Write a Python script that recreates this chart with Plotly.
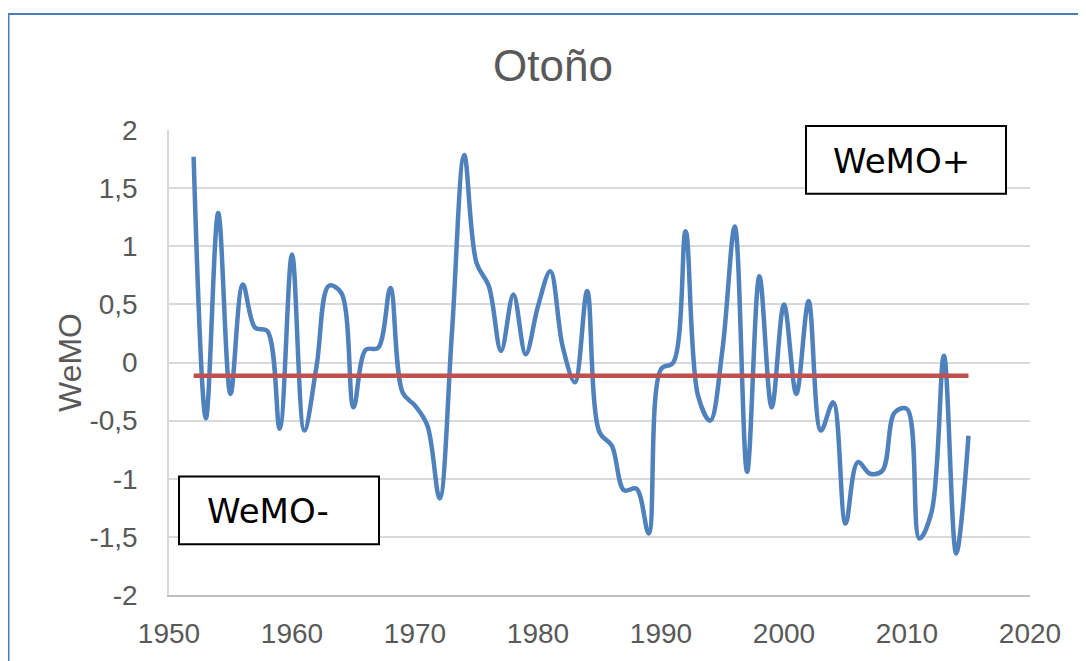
import plotly.graph_objects as go

years = list(range(1952, 2016))
wemo = [1.77, -0.48, 1.285, -0.27, 0.67, 0.30, 0.27, -0.57, 0.93, -0.585,
        -0.03, 0.66, 0.60, -0.385, 0.11, 0.125, 0.64, -0.26, -0.37, -0.54,
        -1.17, 0.25, 1.785, 0.857, 0.657, 0.10, 0.585, 0.07, 0.485, 0.785,
        0.14, -0.17, 0.615, -0.60, -0.715, -1.10, -1.085, -1.47, -0.057, 0.0,
        1.13, -0.28, -0.50, 0.114, 1.17, -0.94, 0.742, -0.386, 0.50, -0.27,
        0.528, -0.586, -0.343, -1.386, -0.857, -0.957, -0.93, -0.43, -0.40, -1.514,
        -1.285, 0.057, -1.643, -0.63]
mean_value = -0.115
mean_line = [mean_value] * len(years)

y_tickvals = [2, 1.5, 1, 0.5, 0, -0.5, -1, -1.5, -2]
y_ticktext = ["2", "1,5", "1", "0,5", "0", "-0,5", "-1", "-1,5", "-2"]
x_tickvals = [1950, 1960, 1970, 1980, 1990, 2000, 2010, 2020]
x_ticktext = [str(v) for v in x_tickvals]

# page has an 8px body margin; work in page pixels and convert
OFF = 8
W, H = 1086 - OFF, 661 - OFF
L, R, T, B = 169 - OFF, 1030 - OFF, 130 - OFF, 597 - OFF


def px(x):
    return (x - OFF - L) / (R - L)


def py(y):
    return (B - (y - OFF)) / (B - T)


fig = go.Figure()
fig.add_trace(go.Scatter(x=years, y=wemo, mode="lines",
                         line=dict(color="#4F81BD", width=4.5, shape="spline", smoothing=1.0),
                         showlegend=False, hoverinfo="skip"))
fig.add_trace(go.Scatter(x=years, y=mean_line, mode="lines",
                         line=dict(color="#C0504D", width=4.5),
                         showlegend=False, hoverinfo="skip"))

gray = "#595959"
fig.update_layout(
    width=W, height=H,
    margin=dict(l=L, r=W - R, t=T, b=H - B),
    paper_bgcolor="white", plot_bgcolor="white",
    font=dict(family="Liberation Sans, Arial", color=gray),
    xaxis=dict(range=[1950, 2020], tickvals=x_tickvals, ticktext=x_ticktext,
               showgrid=False, zeroline=False, showline=True, linecolor="#BFBFBF", linewidth=1.5,
               ticks="", tickfont=dict(size=28, color=gray), ticklabelstandoff=13),
    yaxis=dict(range=[-2, 2], tickvals=y_tickvals, ticktext=y_ticktext,
               showgrid=True, gridcolor="#D9D9D9", gridwidth=1.5, zeroline=False,
               showline=True, linecolor="#D9D9D9", linewidth=1.5,
               ticks="", tickfont=dict(size=28, color=gray), ticklabelstandoff=24),
    title=dict(text="Otoño", x=px(553), xanchor="center", xref="paper",
               y=1 - (66 - OFF) / H, yref="container", yanchor="middle",
               font=dict(size=44, color=gray, family="Liberation Sans, Arial")),
)

# Axis title
fig.add_annotation(text="WeMO", x=px(70), y=py(364), xref="paper", yref="paper",
                   textangle=-90, showarrow=False, xanchor="center", yanchor="middle",
                   font=dict(size=32, color=gray, family="Liberation Sans, Arial"))

# Label boxes
boxes = [("WeMO+", 806, 126, 1006, 194), ("WeMO-", 179, 478, 379, 546)]
for label, x0, y0, x1, y1 in boxes:
    fig.add_shape(type="rect", xref="paper", yref="paper",
                  x0=px(x0), x1=px(x1), y0=py(y0), y1=py(y1),
                  line=dict(color="black", width=2), fillcolor="white", layer="above")

fig.add_annotation(text="WeMO+", x=px(901), y=py(161), xref="paper", yref="paper",
                   showarrow=False, xanchor="center", yanchor="middle",
                   font=dict(size=34, color="black", family="DejaVu Sans"))
fig.add_annotation(text="WeMO-", x=px(268), y=py(513), xref="paper", yref="paper",
                   showarrow=False, xanchor="center", yanchor="middle",
                   font=dict(size=34, color="black", family="DejaVu Sans"))

# Outer chart border
fig.add_shape(type="rect", xref="paper", yref="paper",
              x0=px(8.5), x1=px(1100), y0=py(13.5), y1=py(700),
              line=dict(color="#4A7EBB", width=2), fillcolor="rgba(0,0,0,0)", layer="above")

fig.write_html("out.html")
